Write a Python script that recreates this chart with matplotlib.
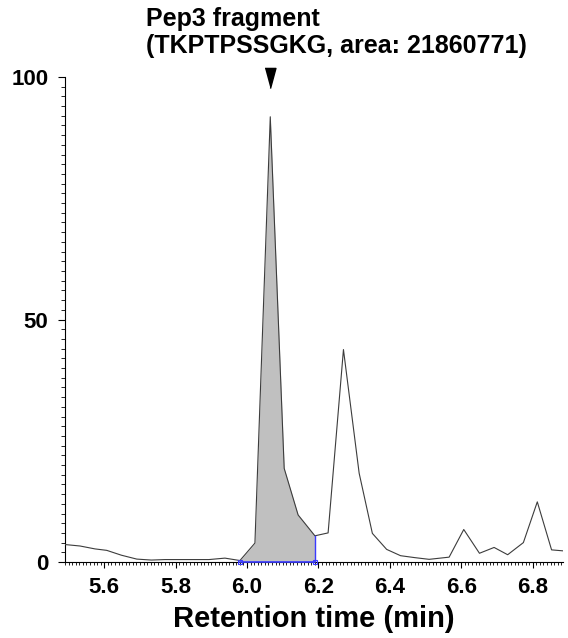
import numpy as np
import matplotlib
matplotlib.use("Agg")
import matplotlib.pyplot as plt
from matplotlib.ticker import MultipleLocator, FixedLocator

plt.rcParams['font.family'] = ['Liberation Sans', 'DejaVu Sans']
plt.rcParams['font.weight'] = 'bold'

# extracted ion chromatogram (retention time in min, relative intensity in %)
rt = [5.490, 5.532, 5.574, 5.607, 5.648, 5.691, 5.732, 5.770, 5.813, 5.853,
      5.893, 5.938, 5.980, 6.022, 6.065, 6.104, 6.143, 6.190, 6.227, 6.270,
      6.314, 6.351, 6.391, 6.430, 6.470, 6.510, 6.566, 6.607, 6.651, 6.692,
      6.730, 6.774, 6.813, 6.853, 6.885]
intensity = [3.6, 3.3, 2.7, 2.4, 1.4, 0.6, 0.4, 0.5, 0.5, 0.5,
             0.5, 0.8, 0.3, 3.9, 91.8, 19.3, 9.7, 5.4, 6.0, 43.8,
             18.3, 5.9, 2.6, 1.3, 0.9, 0.55, 1.0, 6.7, 1.8, 3.0,
             1.5, 4.0, 12.4, 2.5, 2.3]

# integration window of the annotated peak
peak_start, peak_end = 5.980, 6.190
apex_rt = 6.065
peak_name = "Pep3 fragment"
peak_info = "(TKPTPSSGKG, area: 21860771)"

rt = np.array(rt)
intensity = np.array(intensity)

fig = plt.figure(figsize=(5.68, 6.38), dpi=100)
ax = fig.add_axes([65/568, 76/638, 498/568, 485/638])

# shaded integrated area
sel = (rt >= peak_start) & (rt <= peak_end)
ax.fill_between(rt[sel], 0, intensity[sel], color='#c0c0c0', lw=0, zorder=1)
ax.plot(rt, intensity, color='#3c3c3c', lw=0.8, zorder=3)

# integration baseline and boundaries
blue = '#3a3aff'
end_y = intensity[rt == peak_end][0]
ax.plot([peak_start, peak_end], [0, 0], color=blue, lw=1.2, zorder=4, clip_on=False)
ax.plot([peak_end, peak_end], [0, end_y], color=blue, lw=1.0, zorder=4)
ax.plot([peak_start, peak_end], [0, 0], ls='none', marker='s', ms=3.5,
        mfc='none', mec=blue, mew=0.8, zorder=5, clip_on=False)

# apex marker
tri = [(-0.27, 0.5), (0.27, 0.5), (0, -0.5)]
ax.plot([apex_rt], [99.8], ls='none', marker=tri, ms=14.5, color='black',
        clip_on=False, zorder=6)

ax.set_xlim(5.49, 6.885)
ax.set_ylim(0, 100)

ax.spines['top'].set_visible(False)
ax.spines['right'].set_visible(False)
for s in ('left', 'bottom'):
    ax.spines[s].set_linewidth(0.8)

ax.xaxis.set_major_locator(FixedLocator([5.6, 5.8, 6.0, 6.2, 6.4, 6.6, 6.8]))
ax.xaxis.set_minor_locator(MultipleLocator(0.01))
ax.yaxis.set_major_locator(FixedLocator([0, 50, 100]))
ax.yaxis.set_minor_locator(MultipleLocator(2))
ax.tick_params(axis='x', which='major', length=4, width=0.8, pad=7, labelsize=16)
ax.tick_params(axis='x', which='minor', length=2, width=0.6)
ax.tick_params(axis='y', which='major', length=5, width=0.8, pad=7, labelsize=16)
ax.tick_params(axis='y', which='minor', length=3, width=0.6)
ax.set_xticklabels(['5.6', '5.8', '6.0', '6.2', '6.4', '6.6', '6.8'])

ax.set_xlabel("Retention time (min)", fontsize=21, fontweight='bold', labelpad=5)

fig.text(146/568, 1 - 19/638, peak_name, fontsize=18, fontweight='bold',
         ha='left', va='center')
fig.text(146/568, 1 - 46/638, peak_info, fontsize=18, fontweight='bold',
         ha='left', va='center')

fig.savefig("out.png", dpi=100)
